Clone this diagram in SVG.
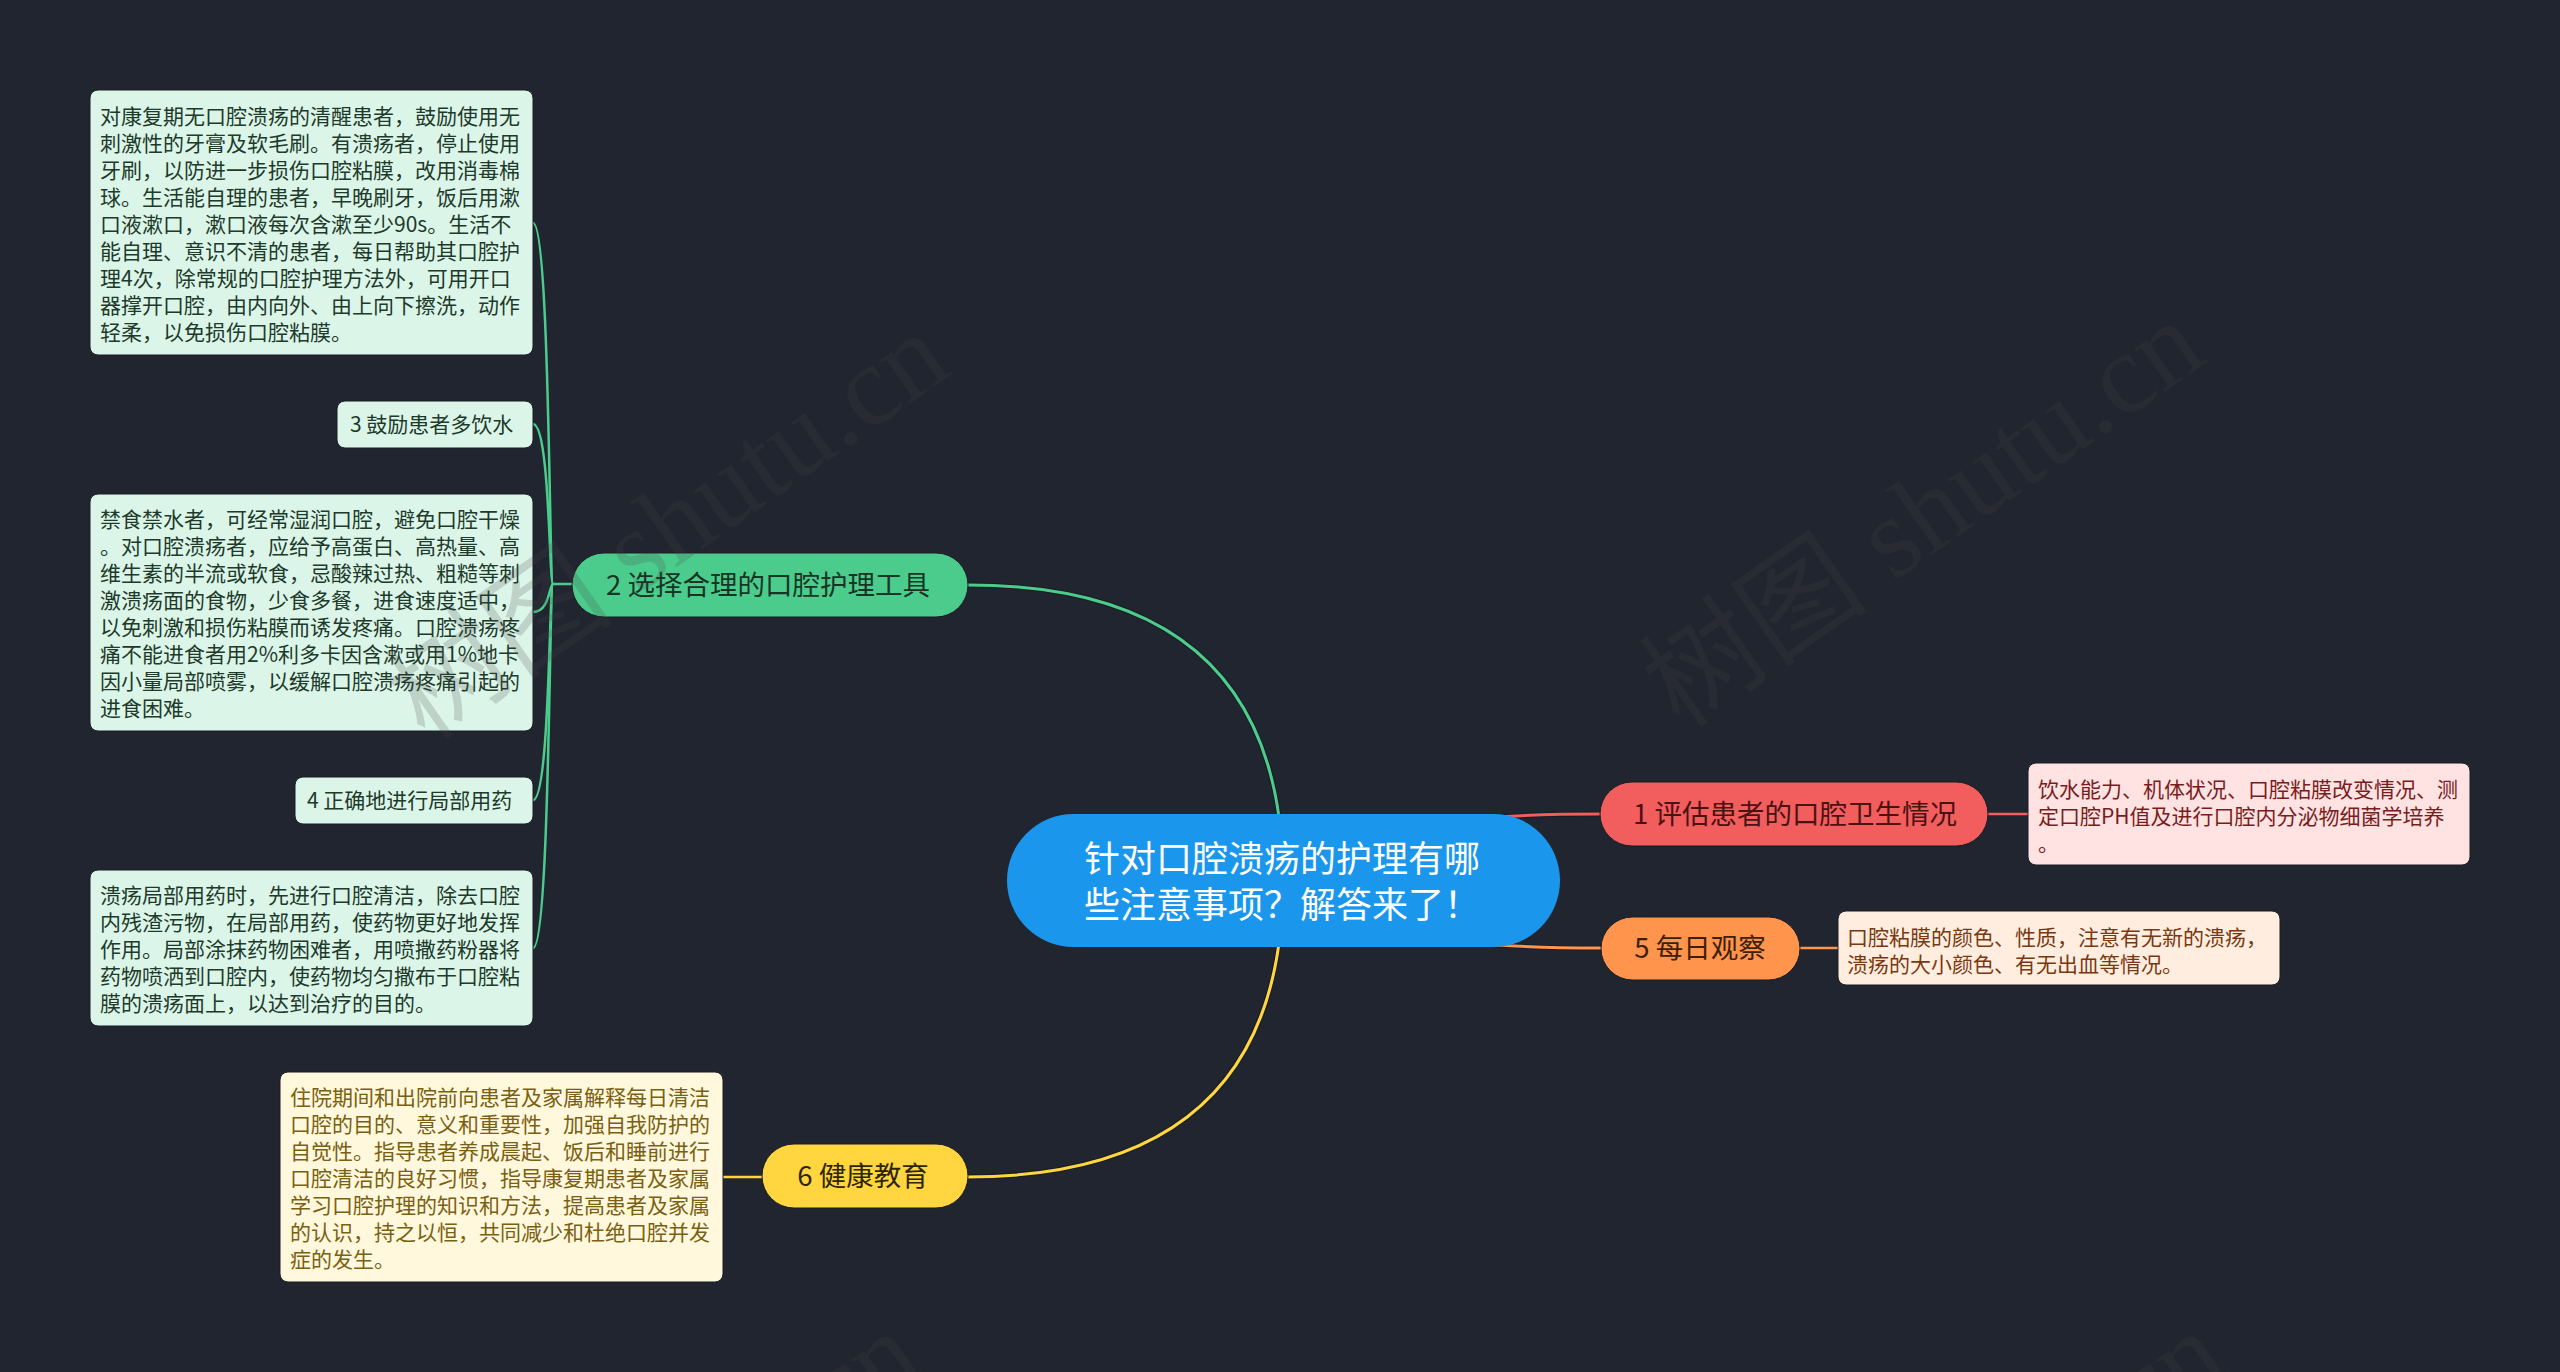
<svg xmlns="http://www.w3.org/2000/svg" width="2560" height="1372" viewBox="0 0 2560 1372">
<style>
text{font-family:"Noto Sans CJK SC","Noto Sans",sans-serif}
.leaf{font-size:21px}
.lg{fill:#1d3a2b}
.ly{fill:#7a6010}
.lp{fill:#7a1c1c}
.lo{fill:#7a3810}
.bg{fill:#dcf5e9}
.by{fill:#fff8dd}
.bp{fill:#ffe2e2}
.bo{fill:#ffeedf}
.box{stroke:#1a1d24;stroke-width:1}
.main{font-size:27.5px;text-anchor:middle}
.con{fill:none;stroke-width:3;stroke-linecap:round}
.sh{fill:none;stroke:#121419;stroke-width:5;stroke-opacity:0.55}
.wm{font-family:"Liberation Serif","Noto Sans CJK SC",serif;font-size:115px;fill:#444444;fill-opacity:0.2;text-anchor:middle;dominant-baseline:central}
</style>
<rect x="0" y="0" width="2560" height="1372" fill="#21252f"/>

<g id="connectors">
  <g class="sh">
    <path d="M1283 880 Q1283 585 968 585"/>
    <path d="M1283 880 Q1283 1177 967 1177"/>
    <path d="M1283 880 Q1330 814 1600 814"/>
    <path d="M1283 880 Q1330 948 1600 948"/>
  </g>
  <path class="con" stroke="#4ccc8c" d="M1283 880 Q1283 585 968 585"/>
  <path class="con" stroke="#ffd640" d="M1283 880 Q1283 1177 967 1177"/>
  <path class="con" stroke="#f25d5d" d="M1283 880 Q1330 814 1600 814"/>
  <path class="con" stroke="#ff944d" d="M1283 880 Q1330 948 1600 948"/>
  <g stroke="#4ccc8c" class="con" style="stroke-width:2.5">
    <path d="M572 584 L553 584"/>
    <path d="M553 584 C549 584 550 223 533 223"/>
    <path d="M553 584 C549 584 550 424 533 424"/>
    <path d="M553 584 C549 584 550 612 533 612"/>
    <path d="M553 584 C549 584 550 800 533 800"/>
    <path d="M553 584 C549 584 550 948 533 948"/>
  </g>
  <path class="con" stroke="#f25d5d" style="stroke-width:2.5" d="M1988 814 L2028 814"/>
  <path class="con" stroke="#ff944d" style="stroke-width:2.5" d="M1800 948 L1838 948"/>
  <path class="con" stroke="#ffd640" style="stroke-width:2.5" d="M762 1177 L723 1177"/>
</g>

<g id="center">
  <rect x="1007" y="814" width="553" height="133" rx="66.5" fill="#1a96ec"/>
  <text font-size="36" fill="#ffffff"><tspan x="1084" y="872">针对口腔溃疡的护理有哪</tspan><tspan x="1084" y="918">些注意事项？解答来了！</tspan></text>
</g>

<g id="node2">
  <rect x="572" y="553" width="396" height="64" rx="32" fill="#4ccc8c" stroke="#1a1d24" stroke-width="1"/>
  <text class="main" x="768" y="595" fill="#163524">2 选择合理的口腔护理工具</text>
</g>

<g id="leaf2a">
  <rect class="box bg" x="90" y="90" width="443" height="265" rx="8"/>
  <text class="leaf lg">
    <tspan x="100" y="124">对康复期无口腔溃疡的清醒患者，鼓励使用无</tspan>
    <tspan x="100" y="151">刺激性的牙膏及软毛刷。有溃疡者，停止使用</tspan>
    <tspan x="100" y="178">牙刷，以防进一步损伤口腔粘膜，改用消毒棉</tspan>
    <tspan x="100" y="205">球。生活能自理的患者，早晚刷牙，饭后用漱</tspan>
    <tspan x="100" y="232">口液漱口，漱口液每次含漱至少90s。生活不</tspan>
    <tspan x="100" y="259">能自理、意识不清的患者，每日帮助其口腔护</tspan>
    <tspan x="100" y="286">理4次，除常规的口腔护理方法外，可用开口</tspan>
    <tspan x="100" y="313">器撑开口腔，由内向外、由上向下擦洗，动作</tspan>
    <tspan x="100" y="340">轻柔，以免损伤口腔粘膜。</tspan>
  </text>
</g>

<g id="leaf2b">
  <rect class="box bg" x="337" y="401" width="196" height="47" rx="8"/>
  <text class="leaf lg" x="350" y="432">3 鼓励患者多饮水</text>
</g>

<g id="leaf2c">
  <rect class="box bg" x="90" y="494" width="443" height="237" rx="8"/>
  <text class="leaf lg">
    <tspan x="100" y="527">禁食禁水者，可经常湿润口腔，避免口腔干燥</tspan>
    <tspan x="100" y="554">。对口腔溃疡者，应给予高蛋白、高热量、高</tspan>
    <tspan x="100" y="581">维生素的半流或软食，忌酸辣过热、粗糙等刺</tspan>
    <tspan x="100" y="608">激溃疡面的食物，少食多餐，进食速度适中，</tspan>
    <tspan x="100" y="635">以免刺激和损伤粘膜而诱发疼痛。口腔溃疡疼</tspan>
    <tspan x="100" y="662">痛不能进食者用2%利多卡因含漱或用1%地卡</tspan>
    <tspan x="100" y="689">因小量局部喷雾，以缓解口腔溃疡疼痛引起的</tspan>
    <tspan x="100" y="716">进食困难。</tspan>
  </text>
</g>

<g id="leaf2d">
  <rect class="box bg" x="295" y="777" width="238" height="47" rx="8"/>
  <text class="leaf lg" x="307" y="808">4 正确地进行局部用药</text>
</g>

<g id="leaf2e">
  <rect class="box bg" x="90" y="870" width="443" height="156" rx="8"/>
  <text class="leaf lg">
    <tspan x="100" y="903">溃疡局部用药时，先进行口腔清洁，除去口腔</tspan>
    <tspan x="100" y="930">内残渣污物，在局部用药，使药物更好地发挥</tspan>
    <tspan x="100" y="957">作用。局部涂抹药物困难者，用喷撒药粉器将</tspan>
    <tspan x="100" y="984">药物喷洒到口腔内，使药物均匀撒布于口腔粘</tspan>
    <tspan x="100" y="1011">膜的溃疡面上，以达到治疗的目的。</tspan>
  </text>
</g>

<g id="node1">
  <rect x="1600" y="782" width="388" height="64" rx="32" fill="#f25d5d" stroke="#1a1d24" stroke-width="1"/>
  <text class="main" x="1795" y="824" fill="#4a1212">1 评估患者的口腔卫生情况</text>
</g>

<g id="leaf1">
  <rect class="box bp" x="2028" y="763" width="442" height="102" rx="8"/>
  <text class="leaf lp">
    <tspan x="2038" y="797">饮水能力、机体状况、口腔粘膜改变情况、测</tspan>
    <tspan x="2038" y="824">定口腔PH值及进行口腔内分泌物细菌学培养</tspan>
    <tspan x="2038" y="851">。</tspan>
  </text>
</g>

<g id="node5">
  <rect x="1601" y="917" width="199" height="63" rx="31.5" fill="#ff944d" stroke="#1a1d24" stroke-width="1"/>
  <text class="main" x="1700" y="958" fill="#3d2008">5 每日观察</text>
</g>

<g id="leaf5">
  <rect class="box bo" x="1838" y="911" width="442" height="74" rx="8"/>
  <text class="leaf lo">
    <tspan x="1847" y="945">口腔粘膜的颜色、性质，注意有无新的溃疡，</tspan>
    <tspan x="1847" y="972">溃疡的大小颜色、有无出血等情况。</tspan>
  </text>
</g>

<g id="node6">
  <rect x="762" y="1144" width="206" height="64" rx="32" fill="#ffd640" stroke="#1a1d24" stroke-width="1"/>
  <text class="main" x="863" y="1186" fill="#2e2500">6 健康教育</text>
</g>

<g id="leaf6">
  <rect class="box by" x="280" y="1072" width="443" height="210" rx="8"/>
  <text class="leaf ly">
    <tspan x="290" y="1105">住院期间和出院前向患者及家属解释每日清洁</tspan>
    <tspan x="290" y="1132">口腔的目的、意义和重要性，加强自我防护的</tspan>
    <tspan x="290" y="1159">自觉性。指导患者养成晨起、饭后和睡前进行</tspan>
    <tspan x="290" y="1186">口腔清洁的良好习惯，指导康复期患者及家属</tspan>
    <tspan x="290" y="1213">学习口腔护理的知识和方法，提高患者及家属</tspan>
    <tspan x="290" y="1240">的认识，持之以恒，共同减少和杜绝口腔并发</tspan>
    <tspan x="290" y="1267">症的发生。</tspan>
  </text>
</g>

<g id="watermark">
  <text class="wm" transform="translate(668 526) rotate(-35)">树图 shutu.cn</text>
  <text class="wm" transform="translate(1923 514) rotate(-35)">树图 shutu.cn</text>
  <text class="wm" transform="translate(640 1525) rotate(-35)">树图 shutu.cn</text>
  <text class="wm" transform="translate(1945 1525) rotate(-35)">树图 shutu.cn</text>
</g>
</svg>
